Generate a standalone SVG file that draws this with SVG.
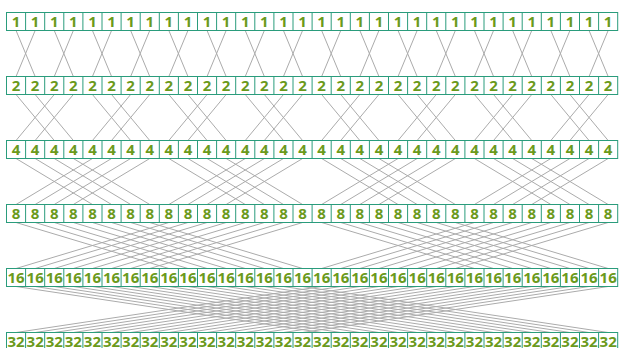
<svg xmlns="http://www.w3.org/2000/svg" xmlns:xlink="http://www.w3.org/1999/xlink" width="619" height="348" viewBox="0 0 619 348">
<style>
.frame{fill:#fff;stroke:#2a9c7c;stroke-width:1}
.t{font-family:"Open Sans","Liberation Sans",sans-serif;font-weight:700;font-size:15px;fill:#6b9a1c;text-anchor:middle}
.ln{fill:none;stroke:#ababab;stroke-width:1}
</style>
<defs>
<g id="frame">
<rect class="frame" x="6.5" y="12.5" width="611.2" height="18"/>
<path class="frame" d="M25.6 12.5v18m19.1-18v18m19.1-18v18m19.1-18v18m19.1-18v18m19.1-18v18m19.1-18v18m19.1-18v18m19.1-18v18m19.1-18v18m19.1-18v18m19.1-18v18m19.1-18v18m19.1-18v18m19.1-18v18m19.1-18v18m19.1-18v18m19.1-18v18m19.1-18v18m19.1-18v18m19.1-18v18m19.1-18v18m19.1-18v18m19.1-18v18m19.1-18v18m19.1-18v18m19.1-18v18m19.1-18v18m19.1-18v18m19.1-18v18m19.1-18v18"/>
</g>
</defs>
<g id="connectors">
<path class="ln" d="M16.05 30.5l19.1 46m0-46l-19.1 46m38.2-46l19.1 46m0-46l-19.1 46m38.2-46l19.1 46m0-46l-19.1 46m38.2-46l19.1 46m0-46l-19.1 46m38.2-46l19.1 46m0-46l-19.1 46m38.2-46l19.1 46m0-46l-19.1 46m38.2-46l19.1 46m0-46l-19.1 46m38.2-46l19.1 46m0-46l-19.1 46m38.2-46l19.1 46m0-46l-19.1 46m38.2-46l19.1 46m0-46l-19.1 46m38.2-46l19.1 46m0-46l-19.1 46m38.2-46l19.1 46m0-46l-19.1 46m38.2-46l19.1 46m0-46l-19.1 46m38.2-46l19.1 46m0-46l-19.1 46m38.2-46l19.1 46m0-46l-19.1 46m38.2-46l19.1 46m0-46l-19.1 46"/>
<path class="ln" d="M16.05 94.5l38.2 46m0-46l-38.2 46m19.1-46l38.2 46m0-46l-38.2 46m19.1-46m38.2 0l38.2 46m0-46l-38.2 46m19.1-46l38.2 46m0-46l-38.2 46m19.1-46m38.2 0l38.2 46m0-46l-38.2 46m19.1-46l38.2 46m0-46l-38.2 46m19.1-46m38.2 0l38.2 46m0-46l-38.2 46m19.1-46l38.2 46m0-46l-38.2 46m19.1-46m38.2 0l38.2 46m0-46l-38.2 46m19.1-46l38.2 46m0-46l-38.2 46m19.1-46m38.2 0l38.2 46m0-46l-38.2 46m19.1-46l38.2 46m0-46l-38.2 46m19.1-46m38.2 0l38.2 46m0-46l-38.2 46m19.1-46l38.2 46m0-46l-38.2 46m19.1-46m38.2 0l38.2 46m0-46l-38.2 46m19.1-46l38.2 46m0-46l-38.2 46"/>
<path class="ln" d="M16.05 158.5l76.4 46m0-46l-76.4 46m19.1-46l76.4 46m0-46l-76.4 46m19.1-46l76.4 46m0-46l-76.4 46m19.1-46l76.4 46m0-46l-76.4 46m19.1-46m76.4 0l76.4 46m0-46l-76.4 46m19.1-46l76.4 46m0-46l-76.4 46m19.1-46l76.4 46m0-46l-76.4 46m19.1-46l76.4 46m0-46l-76.4 46m19.1-46m76.4 0l76.4 46m0-46l-76.4 46m19.1-46l76.4 46m0-46l-76.4 46m19.1-46l76.4 46m0-46l-76.4 46m19.1-46l76.4 46m0-46l-76.4 46m19.1-46m76.4 0l76.4 46m0-46l-76.4 46m19.1-46l76.4 46m0-46l-76.4 46m19.1-46l76.4 46m0-46l-76.4 46m19.1-46l76.4 46m0-46l-76.4 46"/>
<path class="ln" d="M16.05 222.5l152.8 46m0-46l-152.8 46m19.1-46l152.8 46m0-46l-152.8 46m19.1-46l152.8 46m0-46l-152.8 46m19.1-46l152.8 46m0-46l-152.8 46m19.1-46l152.8 46m0-46l-152.8 46m19.1-46l152.8 46m0-46l-152.8 46m19.1-46l152.8 46m0-46l-152.8 46m19.1-46l152.8 46m0-46l-152.8 46m19.1-46m152.8 0l152.8 46m0-46l-152.8 46m19.1-46l152.8 46m0-46l-152.8 46m19.1-46l152.8 46m0-46l-152.8 46m19.1-46l152.8 46m0-46l-152.8 46m19.1-46l152.8 46m0-46l-152.8 46m19.1-46l152.8 46m0-46l-152.8 46m19.1-46l152.8 46m0-46l-152.8 46m19.1-46l152.8 46m0-46l-152.8 46"/>
<path class="ln" d="M16.05 286.5l305.6 46m0-46l-305.6 46m19.1-46l305.6 46m0-46l-305.6 46m19.1-46l305.6 46m0-46l-305.6 46m19.1-46l305.6 46m0-46l-305.6 46m19.1-46l305.6 46m0-46l-305.6 46m19.1-46l305.6 46m0-46l-305.6 46m19.1-46l305.6 46m0-46l-305.6 46m19.1-46l305.6 46m0-46l-305.6 46m19.1-46l305.6 46m0-46l-305.6 46m19.1-46l305.6 46m0-46l-305.6 46m19.1-46l305.6 46m0-46l-305.6 46m19.1-46l305.6 46m0-46l-305.6 46m19.1-46l305.6 46m0-46l-305.6 46m19.1-46l305.6 46m0-46l-305.6 46m19.1-46l305.6 46m0-46l-305.6 46m19.1-46l305.6 46m0-46l-305.6 46"/>
</g>
<g id="row-1">
<use xlink:href="#frame"/>
<text class="t" y="27" x="16.05 35.15 54.25 73.35 92.45 111.55 130.65 149.75 168.85 187.95 207.05 226.15 245.25 264.35 283.45 302.55 321.65 340.75 359.85 378.95 398.05 417.15 436.25 455.35 474.45 493.55 512.65 531.75 550.85 569.95 589.05 608.15">11111111111111111111111111111111</text>
</g>
<g id="row-2">
<use xlink:href="#frame" y="64"/>
<text class="t" y="91" x="16.05 35.15 54.25 73.35 92.45 111.55 130.65 149.75 168.85 187.95 207.05 226.15 245.25 264.35 283.45 302.55 321.65 340.75 359.85 378.95 398.05 417.15 436.25 455.35 474.45 493.55 512.65 531.75 550.85 569.95 589.05 608.15">22222222222222222222222222222222</text>
</g>
<g id="row-4">
<use xlink:href="#frame" y="128"/>
<text class="t" y="155" x="16.05 35.15 54.25 73.35 92.45 111.55 130.65 149.75 168.85 187.95 207.05 226.15 245.25 264.35 283.45 302.55 321.65 340.75 359.85 378.95 398.05 417.15 436.25 455.35 474.45 493.55 512.65 531.75 550.85 569.95 589.05 608.15">44444444444444444444444444444444</text>
</g>
<g id="row-8">
<use xlink:href="#frame" y="192"/>
<text class="t" y="219" x="16.05 35.15 54.25 73.35 92.45 111.55 130.65 149.75 168.85 187.95 207.05 226.15 245.25 264.35 283.45 302.55 321.65 340.75 359.85 378.95 398.05 417.15 436.25 455.35 474.45 493.55 512.65 531.75 550.85 569.95 589.05 608.15">88888888888888888888888888888888</text>
</g>
<g id="row-16">
<use xlink:href="#frame" y="256"/>
<text class="t" y="283"><tspan x="16.05">16</tspan><tspan x="35.15">16</tspan><tspan x="54.25">16</tspan><tspan x="73.35">16</tspan><tspan x="92.45">16</tspan><tspan x="111.55">16</tspan><tspan x="130.65">16</tspan><tspan x="149.75">16</tspan><tspan x="168.85">16</tspan><tspan x="187.95">16</tspan><tspan x="207.05">16</tspan><tspan x="226.15">16</tspan><tspan x="245.25">16</tspan><tspan x="264.35">16</tspan><tspan x="283.45">16</tspan><tspan x="302.55">16</tspan><tspan x="321.65">16</tspan><tspan x="340.75">16</tspan><tspan x="359.85">16</tspan><tspan x="378.95">16</tspan><tspan x="398.05">16</tspan><tspan x="417.15">16</tspan><tspan x="436.25">16</tspan><tspan x="455.35">16</tspan><tspan x="474.45">16</tspan><tspan x="493.55">16</tspan><tspan x="512.65">16</tspan><tspan x="531.75">16</tspan><tspan x="550.85">16</tspan><tspan x="569.95">16</tspan><tspan x="589.05">16</tspan><tspan x="608.15">16</tspan></text>
</g>
<g id="row-32">
<use xlink:href="#frame" y="320"/>
<text class="t" y="346.5"><tspan x="16.05">32</tspan><tspan x="35.15">32</tspan><tspan x="54.25">32</tspan><tspan x="73.35">32</tspan><tspan x="92.45">32</tspan><tspan x="111.55">32</tspan><tspan x="130.65">32</tspan><tspan x="149.75">32</tspan><tspan x="168.85">32</tspan><tspan x="187.95">32</tspan><tspan x="207.05">32</tspan><tspan x="226.15">32</tspan><tspan x="245.25">32</tspan><tspan x="264.35">32</tspan><tspan x="283.45">32</tspan><tspan x="302.55">32</tspan><tspan x="321.65">32</tspan><tspan x="340.75">32</tspan><tspan x="359.85">32</tspan><tspan x="378.95">32</tspan><tspan x="398.05">32</tspan><tspan x="417.15">32</tspan><tspan x="436.25">32</tspan><tspan x="455.35">32</tspan><tspan x="474.45">32</tspan><tspan x="493.55">32</tspan><tspan x="512.65">32</tspan><tspan x="531.75">32</tspan><tspan x="550.85">32</tspan><tspan x="569.95">32</tspan><tspan x="589.05">32</tspan><tspan x="608.15">32</tspan></text>
</g>
</svg>
